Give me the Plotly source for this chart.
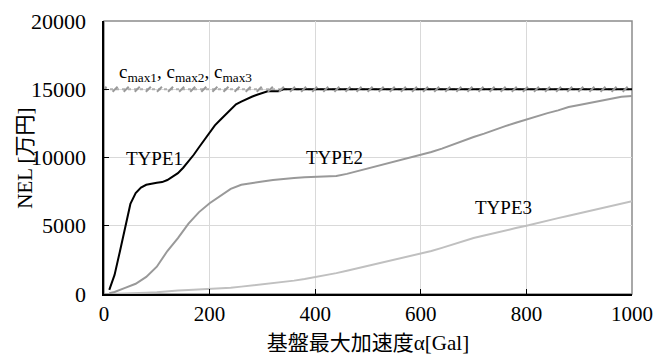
import plotly.graph_objects as go

# ---- data ----
type1_x = [10, 20, 30, 40, 50, 60, 70, 80, 90, 100, 110, 120, 130, 140, 150, 160, 170, 180,
           190, 200, 210, 220, 230, 240, 250, 260, 270, 280, 290, 300, 310, 320, 330, 340,
           400, 500, 600, 700, 800, 900, 1000]
type1_y = [300, 1400, 3100, 4800, 6600, 7400, 7800, 8000, 8100, 8150, 8200, 8350, 8600, 8850,
           9250, 9700, 10200, 10750, 11300, 11850, 12350, 12750, 13150, 13550, 13900, 14100,
           14300, 14450, 14600, 14750, 14850, 14850, 14850, 15000,
           15000, 15000, 15000, 15000, 15000, 15000, 15000]

type2_x = [10, 20, 40, 60, 80, 100, 120, 140, 160, 180, 200, 220, 240, 260, 280, 300, 320, 340,
           360, 380, 400, 420, 440, 460, 480, 500, 520, 540, 560, 580, 600, 620, 640, 660, 680,
           700, 720, 740, 760, 780, 800, 820, 840, 860, 880, 900, 920, 940, 960, 980, 1000]
type2_y = [50, 150, 450, 750, 1250, 2000, 3150, 4100, 5150, 6000, 6650, 7200, 7700, 8000, 8150,
           8250, 8350, 8450, 8500, 8550, 8600, 8600, 8650, 8800, 9000, 9200, 9400, 9550, 9750,
           9950, 10150, 10400, 10650, 10950, 11250, 11500, 11750, 12050, 12300, 12550, 12800,
           13000, 13250, 13450, 13700, 13850, 14000, 14200, 14300, 14450, 14500]

type3_x = [10, 20, 40, 60, 80, 100, 110, 120, 140, 160, 180, 200, 220, 240, 260, 280, 300, 320,
           340, 360, 380, 400, 420, 440, 460, 480, 500, 520, 540, 560, 580, 600, 620, 640, 660,
           680, 700, 720, 740, 760, 780, 800, 820, 840, 860, 880, 900, 920, 940, 960, 980, 1000]
type3_y = [0, 20, 50, 80, 100, 120, 150, 230, 260, 290, 320, 380, 420, 460, 540, 620, 700, 780,
           880, 980, 1100, 1230, 1380, 1530, 1700, 1880, 2060, 2230, 2400, 2580, 2750, 2930,
           3150, 3380, 3620, 3860, 4100, 4280, 4480, 4660, 4830, 5000, 5200, 5380, 5560, 5730,
           5900, 6080, 6250, 6450, 6630, 6800]

cmax_x = [0, 21, 42, 63, 84, 105, 126, 147, 168, 189, 210, 231, 252, 273, 294, 315, 336, 357,
          378, 399, 420, 441, 462, 483, 504, 525, 546, 567, 588, 609, 630, 651, 672, 693, 714,
          735, 756, 777, 798, 819, 840, 861, 882, 903, 924, 945, 966, 987]
cmax_y = [15000] * len(cmax_x)

x_ticks = [0, 200, 400, 600, 800, 1000]
x_ticktext = ["0", "200", "400", "600", "800", "1000"]
y_ticks = [0, 5000, 10000, 15000, 20000]
y_ticktext = ["0", "5000", "10000", "15000", "20000"]

SERIF = "Liberation Serif"
JP = "Noto Sans CJK JP"

fig = go.Figure()
fig.add_trace(go.Scatter(x=[0, 1000], y=[15000, 15000], mode="lines",
                         line=dict(color="#b0b0b0", width=2, dash="dot"), hoverinfo="skip"))
fig.add_trace(go.Scatter(x=type3_x, y=type3_y, mode="lines",
                         line=dict(color="#c0c0c0", width=2)))
fig.add_trace(go.Scatter(x=type2_x, y=type2_y, mode="lines",
                         line=dict(color="#999999", width=2)))
fig.add_trace(go.Scatter(x=type1_x, y=type1_y, mode="lines",
                         line=dict(color="#000000", width=2)))
fig.add_trace(go.Scatter(x=cmax_x, y=cmax_y, mode="markers",
                         marker=dict(symbol="line-ne", size=5, color="#9a9a9a",
                                     line=dict(color="#9a9a9a", width=2))))

annots = [
    dict(x=24, y=16200, text="c<sub>max1</sub>, c<sub>max2</sub>, c<sub>max3</sub>",
         xanchor="left", size=19),
    dict(x=96, y=9900, text="TYPE1", xanchor="center", size=19),
    dict(x=437, y=10000, text="TYPE2", xanchor="center", size=19),
    dict(x=757, y=6350, text="TYPE3", xanchor="center", size=19),
]
for a in annots:
    fig.add_annotation(x=a["x"], y=a["y"], text=a["text"], xanchor=a["xanchor"],
                       yanchor="middle", showarrow=False,
                       font=dict(family=SERIF, size=a["size"], color="#000"))

# y tick labels placed on the y scale, offset from the axis
for v, t in zip(y_ticks, y_ticktext):
    fig.add_annotation(xref="paper", yref="y", x=-0.031, y=v, text=t, showarrow=False,
                       xanchor="right", yanchor="middle",
                       font=dict(family=SERIF, size=22, color="#000"))

# y-axis title
fig.add_annotation(xref="paper", yref="paper", x=-0.155, y=0.496, textangle=-90,
                   text="NEL [<span style='font-family:Noto Sans CJK JP'>万円</span>]",
                   showarrow=False, xanchor="center", yanchor="middle",
                   font=dict(family=SERIF, size=21, color="#000"))

fig.add_shape(type="rect", xref="paper", yref="paper", x0=0, y0=0, x1=1, y1=1,
              line=dict(color="#8c8c8c", width=1.5), layer="below")

fig.update_layout(
    width=656, height=361,
    margin=dict(l=104, r=24, t=21, b=67, autoexpand=False),
    paper_bgcolor="white", plot_bgcolor="white",
    showlegend=False,
    font=dict(family=SERIF, color="#000"),
    xaxis=dict(range=[0, 1000], tickmode="array", tickvals=x_ticks, ticktext=x_ticktext,
               ticks="inside", ticklen=5, automargin=False,
               tickcolor="#000", showline=True, linecolor="#000", linewidth=2,
               showgrid=True, gridcolor="#d9d9d9", gridwidth=1, zeroline=False,
               tickfont=dict(family=SERIF, size=21, color="#000"),
               title=dict(text="<span style='font-family:Noto Sans CJK JP'>基盤最大加速度</span>α[Gal]",
                          font=dict(family=SERIF, size=21, color="#000"), standoff=1)),
    yaxis=dict(range=[0, 20000], tickmode="array", tickvals=y_ticks, showticklabels=False,
               ticks="inside", ticklen=5, tickcolor="#000", automargin=False,
               showline=True, linecolor="#000", linewidth=2,
               showgrid=True, gridcolor="#d9d9d9", gridwidth=1, zeroline=False),
)

fig.write_html("out.html")
